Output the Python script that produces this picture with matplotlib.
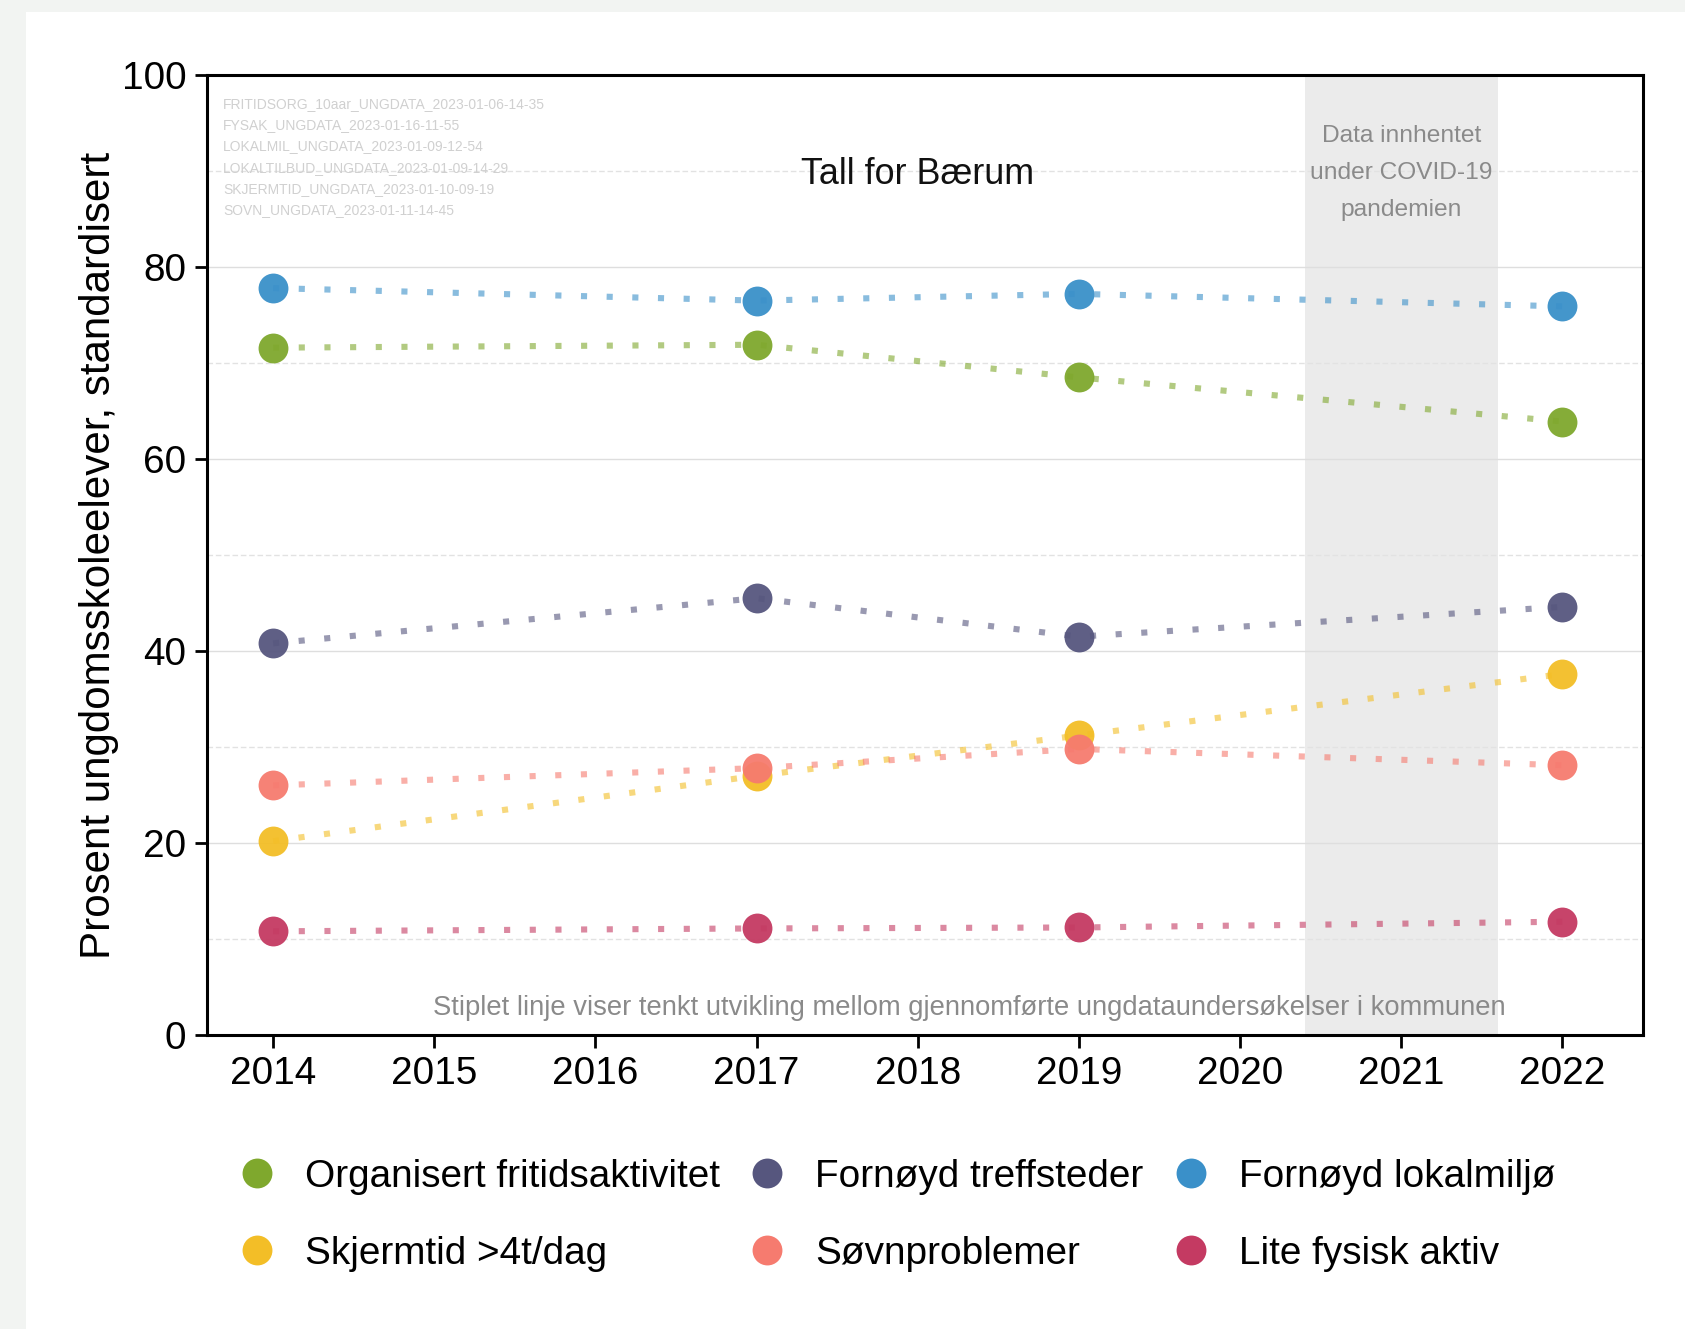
import numpy as np
import matplotlib
matplotlib.use('Agg')
import matplotlib.pyplot as plt
from matplotlib import font_manager
from matplotlib.patches import Rectangle
from matplotlib.lines import Line2D

# the text in the picture is tall and narrow, use the narrow face if it is there
names = {f.name for f in font_manager.fontManager.ttflist}
if 'Liberation Sans Narrow' in names:
    plt.rcParams['font.family'] = ['Liberation Sans Narrow', 'DejaVu Sans']
    k = 1.0
else:
    plt.rcParams['font.family'] = ['Liberation Sans', 'DejaVu Sans']
    k = 0.82

years = [2014, 2017, 2019, 2022]

series_names = ['Organisert fritidsaktivitet', 'Fornøyd treffsteder', 'Fornøyd lokalmiljø',
                'Skjermtid >4t/dag', 'Søvnproblemer', 'Lite fysisk aktiv']
organisert = [71.6, 71.9, 68.5, 63.9]
treffsteder = [40.8, 45.5, 41.5, 44.6]
lokalmiljo = [77.8, 76.5, 77.2, 75.9]
skjermtid = [20.2, 27.0, 31.2, 37.6]
sovn = [26.0, 27.8, 29.8, 28.1]
fysisk = [10.8, 11.1, 11.2, 11.8]

colors = ['#7fa82d', '#56567e', '#3a90c9', '#f3be27', '#f67b6f', '#c43a62']

watermark = ['FRITIDSORG_10aar_UNGDATA_2023-01-06-14-35',
             'FYSAK_UNGDATA_2023-01-16-11-55',
             'LOKALMIL_UNGDATA_2023-01-09-12-54',
             'LOKALTILBUD_UNGDATA_2023-01-09-14-29',
             'SKJERMTID_UNGDATA_2023-01-10-09-19',
             'SOVN_UNGDATA_2023-01-11-14-45']

fig = plt.figure(figsize=(16.85, 13.29), dpi=100, facecolor='#f2f4f2')
fig.patches.append(Rectangle((26 / 1685, 0), 1, (1329 - 12) / 1329, transform=fig.transFigure,
                             facecolor='white', edgecolor='none', zorder=-10))

ax = fig.add_axes([207 / 1685, 294 / 1329, 1436 / 1685, 960 / 1329])

ax.axvspan(2020.4, 2021.6, color='#ebebeb', zorder=0, lw=0)

for v in [20, 40, 60, 80]:
    ax.axhline(v, color='#dedede', lw=1.0, zorder=0.5)
for v in [10, 30, 50, 70, 90]:
    ax.axhline(v, color='#e2e2e2', lw=1.0, ls=(0, (4, 2)), zorder=0.5)

all_series = [organisert, treffsteder, lokalmiljo, skjermtid, sovn, fysisk]
handles = []
for name, vals, c in zip(series_names, all_series, colors):
    ax.plot(years, vals, color=c, alpha=0.6, lw=4.4, ls=(0, (1, 3.2)), dash_capstyle='butt', zorder=2)
    ax.plot(years, vals, 'o', color=c, ms=21.5, mec='none', alpha=0.95, zorder=3)
    handles.append(Line2D([], [], marker='o', color=c, ms=21.5, ls='none', mec='none'))

ax.set_xlim(2013.59, 2022.5)
ax.set_ylim(0, 100)
ax.set_xticks(range(2014, 2023))
ax.set_yticks([0, 20, 40, 60, 80, 100])
ax.tick_params(labelsize=34 * k, length=9, width=2, color='black', pad=6)
for s in ax.spines.values():
    s.set_linewidth(2.2)
ax.set_ylabel('Prosent ungdomsskoleelever, standardisert', fontsize=37 * k, labelpad=2)

ax.text(2018, 89.6, 'Tall for Bærum', fontsize=31.5 * k, ha='center', va='center', color='#111111')
ax.text(2021.0, 89.8, 'Data innhentet\nunder COVID-19\npandemien', fontsize=21.5 * k, ha='center',
        va='center', color='#8a8a8a', linespacing=1.9)
ax.text(2018.32, 2.8, 'Stiplet linje viser tenkt utvikling mellom gjennomførte ungdataundersøkelser i kommunen',
        fontsize=24 * k, ha='center', va='center', color='#8a8a8a')
for i, line in enumerate(watermark):
    ax.text(2013.69, 97.0 - i * 2.22, line, fontsize=12.2 * k, ha='left', va='center', color='#d0d0d0')

order = [0, 3, 1, 4, 2, 5]
fig.legend([handles[i] for i in order], [series_names[i] for i in order], ncol=3,
           loc='center', bbox_to_anchor=(0.531, 0.0855), frameon=False, fontsize=34 * k,
           handletextpad=0.64, columnspacing=0.62, labelspacing=1.06, handlelength=1.2)

fig.savefig('out.png', dpi=100, facecolor=fig.get_facecolor())
